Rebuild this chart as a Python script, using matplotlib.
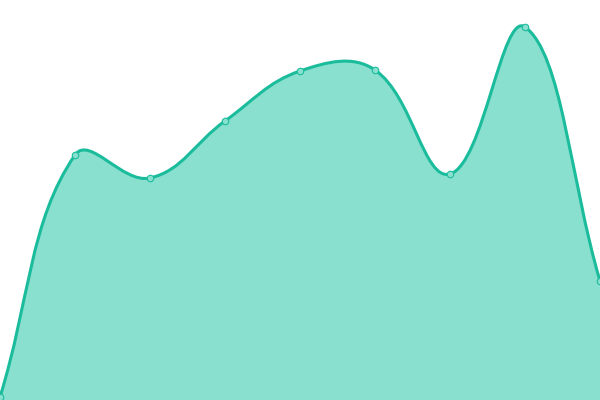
import numpy as np
import matplotlib
matplotlib.use("Agg")
import matplotlib.pyplot as plt
from matplotlib.path import Path
from matplotlib.patches import PathPatch

# 数据: 9 个点, 纵轴 0..400
labels = list(range(9))
values = [3, 245, 222, 279, 329, 330, 226, 373, 119]

line_color = "#1abc9c"
fill_color = "#8ae0cf"
x_step = 75  # 每个点之间的像素距离, 用于算张力曲线


def spline_controls(xs, ys, tension=0.4):
    # Chart.js 风格的三次样条控制点 (按像素距离)
    n = len(xs)
    px = np.array(xs, float) * x_step
    py = np.array(ys, float)
    cps = []
    for i in range(n):
        pi = max(i - 1, 0)
        ni = min(i + 1, n - 1)
        d01 = np.hypot(px[i] - px[pi], py[i] - py[pi])
        d12 = np.hypot(px[ni] - px[i], py[ni] - py[i])
        tot = d01 + d12
        s01 = d01 / tot if tot else 0
        s12 = d12 / tot if tot else 0
        fa, fb = tension * s01, tension * s12
        dx, dy = px[ni] - px[pi], py[ni] - py[pi]
        prev_cp = (px[i] - fa * dx, py[i] - fa * dy)
        next_cp = (px[i] + fb * dx, py[i] + fb * dy)
        cps.append((prev_cp, next_cp))
    return px, py, cps


px, py, cps = spline_controls(labels, values)
verts = [(px[0], py[0])]
codes = [Path.MOVETO]
for i in range(len(px) - 1):
    verts += [cps[i][1], cps[i + 1][0], (px[i + 1], py[i + 1])]
    codes += [Path.CURVE4] * 3
line_path = Path(verts, codes)

fill_verts = verts + [(px[-1], 0), (px[0], 0), (px[0], py[0])]
fill_codes = codes + [Path.LINETO, Path.LINETO, Path.CLOSEPOLY]
fill_path = Path(fill_verts, fill_codes)

fig = plt.figure(figsize=(6, 4), dpi=100)
ax = fig.add_axes([0, 0, 1, 1])
ax.add_patch(PathPatch(fill_path, facecolor=fill_color, edgecolor="none"))
ax.add_patch(PathPatch(line_path, facecolor="none", edgecolor=line_color, lw=2.2))
ax.scatter(px, py, s=22, facecolor=fill_color, edgecolor=line_color,
           linewidth=0.8, zorder=3, clip_on=True)
ax.set_xlim(0, px[-1])
ax.set_ylim(0, 400)
ax.axis("off")

fig.savefig("out.png", dpi=100)
